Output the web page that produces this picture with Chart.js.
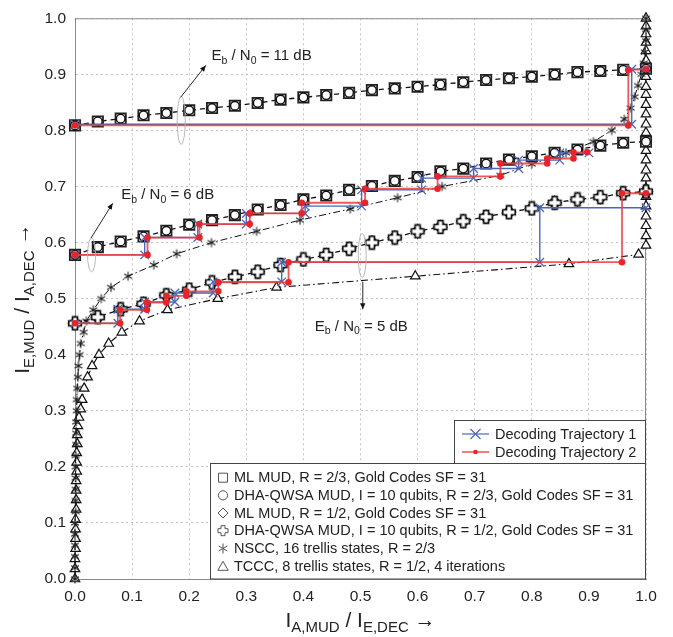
<!DOCTYPE html>
<html><head><meta charset="utf-8">
<script src="https://cdn.jsdelivr.net/npm/chart.js@4"></script>
<style>html,body{margin:0;padding:0;background:#fff}#wrap{width:673px;height:637px}</style>
</head><body><div id="wrap"><canvas id="c" width="673" height="637"></canvas></div>
<script>
// ---------- data ----------
const tickValues = [0.0,0.1,0.2,0.3,0.4,0.5,0.6,0.7,0.8,0.9,1.0];
const muX = [0,0.04,0.08,0.12,0.16,0.20,0.24,0.28,0.32,0.36,0.40,0.44,0.48,0.52,0.56,0.60,0.64,0.68,0.72,0.76,0.80,0.84,0.88,0.92,0.96,1.00];
const mlR23_11dB  = [0.809,0.816,0.821,0.827,0.831,0.836,0.840,0.844,0.849,0.855,0.859,0.863,0.867,0.872,0.875,0.878,0.882,0.886,0.890,0.893,0.896,0.900,0.904,0.906,0.908,0.910];
const dhaR23_11dB = [0.809,0.816,0.821,0.827,0.831,0.836,0.840,0.844,0.849,0.855,0.859,0.863,0.867,0.872,0.875,0.878,0.882,0.886,0.890,0.893,0.896,0.900,0.904,0.906,0.908,0.910];
const mlR23_6dB   = [0.578,0.592,0.602,0.611,0.621,0.632,0.640,0.649,0.659,0.667,0.677,0.684,0.694,0.701,0.710,0.717,0.727,0.732,0.741,0.748,0.754,0.760,0.766,0.773,0.778,0.780];
const dhaR23_6dB  = [0.578,0.592,0.602,0.611,0.621,0.632,0.640,0.649,0.659,0.667,0.677,0.684,0.694,0.701,0.710,0.717,0.727,0.732,0.741,0.748,0.754,0.760,0.766,0.773,0.778,0.780];
const mlR12_5dB   = [0.456,0.467,0.481,0.491,0.506,0.516,0.529,0.539,0.548,0.560,0.570,0.578,0.589,0.600,0.609,0.620,0.628,0.638,0.646,0.654,0.661,0.671,0.677,0.681,0.688,0.691];
const dhaR12_5dB  = [0.456,0.467,0.481,0.491,0.506,0.516,0.529,0.539,0.548,0.560,0.570,0.578,0.589,0.600,0.609,0.620,0.628,0.638,0.646,0.654,0.661,0.671,0.677,0.681,0.688,0.691];

const nsccY = [0.00,0.02,0.04,0.06,0.08,0.10,0.12,0.14,0.16,0.18,0.20,0.22,0.24,0.26,0.28,0.30,0.32,0.34,0.36,0.38,0.40,0.42,0.44,0.46,0.48,0.50,0.52,0.54,0.56,0.58,0.60,0.62,0.64,0.66,0.68,0.70,0.72,0.74,0.76,0.78,0.80,0.82,0.84,0.86,0.88,0.90,0.92,0.94,0.96,0.98,1.00];
const nsccX = [0.000,0.000,0.000,0.000,0.000,0.000,0.001,0.001,0.001,0.001,0.001,0.001,0.002,0.002,0.002,0.003,0.003,0.004,0.005,0.006,0.008,0.010,0.015,0.020,0.032,0.046,0.063,0.093,0.138,0.178,0.239,0.318,0.394,0.482,0.565,0.643,0.745,0.800,0.860,0.908,0.940,0.962,0.973,0.980,0.986,0.992,0.996,0.998,1.000,1.000,1.000];

const tcccY = [0,0.018,0.036,0.054,0.072,0.089,0.106,0.124,0.141,0.158,0.175,0.192,0.208,0.225,0.241,0.257,0.273,0.288,0.303,
  0.32,0.34,0.36,0.38,0.40,0.42,0.44,0.46,0.48,0.50,0.52,0.54,0.562,0.579,
  0.595,0.612,0.630,0.647,0.665,0.682,0.697,0.715,0.729,0.747,0.764,0.782,0.796,0.811,0.829,0.846,0.864,0.878,0.896,0.911,0.925,0.942,0.957,0.972,0.986,1.0];
const tcccX = [0,0,0,0.001,0.001,0.001,0.001,0.002,0.002,0.002,0.002,0.003,0.003,0.003,0.004,0.004,0.005,0.007,0.010,
  0.0125,0.016,0.022,0.030,0.042,0.059,0.082,0.113,0.162,0.250,0.353,0.596,0.865,0.987,
  1,1,1,1,1,1,1,1,1,1,1,1,1,1,1,1,1,1,1,1,1,1,1,1,1,1];

const traj1_11dB_x = [0,0.975,0.975,1.0];
const traj1_11dB_y = [0.811,0.811,0.909,0.910];
const traj2_11dB_x = [0,0.969,0.969,1.0];
const traj2_11dB_y = [0.809,0.809,0.908,0.909];
const traj1_6dB_x = [0,0.122,0.122,0.215,0.215,0.300,0.300,0.403,0.403,0.502,0.502,0.607,0.607,0.698,0.698,0.777,0.777,0.849,0.849,0.900];
const traj1_6dB_y = [0.578,0.578,0.609,0.609,0.633,0.633,0.652,0.652,0.665,0.665,0.694,0.694,0.715,0.715,0.732,0.732,0.747,0.747,0.760,0.760];
const traj2_6dB_x = [0,0.127,0.127,0.218,0.218,0.306,0.306,0.397,0.397,0.508,0.508,0.635,0.635,0.745,0.745,0.827,0.827,0.873,0.873,0.897];
const traj2_6dB_y = [0.578,0.578,0.609,0.609,0.633,0.633,0.652,0.652,0.671,0.671,0.696,0.696,0.718,0.718,0.741,0.741,0.750,0.750,0.761,0.761];
const traj1_5dB_x = [0,0.075,0.075,0.122,0.122,0.175,0.175,0.242,0.242,0.362,0.362,0.814,0.814,1.0];
const traj1_5dB_y = [0.456,0.456,0.481,0.481,0.494,0.494,0.510,0.510,0.530,0.530,0.565,0.565,0.662,0.662];
const traj2_5dB_x = [0,0.079,0.079,0.126,0.126,0.160,0.160,0.195,0.195,0.251,0.251,0.374,0.374,0.958,0.958,1.0];
const traj2_5dB_y = [0.456,0.456,0.480,0.480,0.493,0.493,0.505,0.505,0.513,0.513,0.529,0.529,0.565,0.565,0.688,0.688];

const legendTraj = ['Decoding Trajectory 1','Decoding Trajectory 2'];
const legendCurves = ['ML MUD, R = 2/3, Gold Codes SF = 31','DHA-QWSA MUD, I = 10 qubits, R = 2/3, Gold Codes SF = 31','ML MUD, R = 1/2, Gold Codes SF = 31','DHA-QWSA MUD, I = 10 qubits, R = 1/2, Gold Codes SF = 31','NSCC, 16 trellis states, R = 2/3','TCCC, 8 trellis states, R = 1/2, 4 iterations'];
const annotations = [
  {label:'11', tx:0.239, ty:0.925, ax0:0.185, ay0:0.859, ax1:0.229, ay1:0.916, ex:0.186, ey:0.818, erx:4, ery:24},
  {label:'6',  tx:0.081, ty:0.677, ax0:0.028, ay0:0.608, ax1:0.066, ay1:0.670, ex:0.029, ey:0.578, erx:4, ery:17},
  {label:'5',  tx:0.420, ty:0.443, ax0:0.504, ay0:0.530, ax1:0.504, ay1:0.481, ex:0.503, ey:0.577, erx:4, ery:22}
];

// ---------- helpers ----------
const FONT = '"Liberation Sans", Arial, Helvetica, sans-serif';
const pts = (xs, ys) => xs.map((x, i) => ({x: x, y: ys[i]}));
const BLUE = '#4a66b8', RED = '#e8242a', REDLINE = 'rgba(236,60,60,0.85)';

function plusPath(g, cx, cy, s, a){
  g.beginPath();
  g.moveTo(cx-a,cy-s); g.lineTo(cx+a,cy-s); g.lineTo(cx+a,cy-a); g.lineTo(cx+s,cy-a);
  g.lineTo(cx+s,cy+a); g.lineTo(cx+a,cy+a); g.lineTo(cx+a,cy+s); g.lineTo(cx-a,cy+s);
  g.lineTo(cx-a,cy+a); g.lineTo(cx-s,cy+a); g.lineTo(cx-s,cy-a); g.lineTo(cx-a,cy-a); g.closePath();
}
function astPath(g, cx, cy, r){
  g.beginPath();
  for (let k = 0; k < 3; k++){
    const ang = Math.PI/2 + k*Math.PI/3;
    g.moveTo(cx + r*Math.cos(ang), cy + r*Math.sin(ang));
    g.lineTo(cx - r*Math.cos(ang), cy - r*Math.sin(ang));
  }
}
function mkPlus(){
  const c = document.createElement('canvas'); c.width = c.height = 16;
  const g = c.getContext('2d');
  plusPath(g, 8, 8, 6.3, 2.5);
  g.fillStyle = '#fff'; g.fill(); g.lineWidth = 1.7; g.strokeStyle = '#111'; g.stroke();
  return c;
}
function mkAst(){
  const c = document.createElement('canvas'); c.width = c.height = 12;
  const g = c.getContext('2d');
  astPath(g, 6, 6, 4.5);
  g.lineWidth = 1.1; g.strokeStyle = '#222'; g.stroke();
  return c;
}
const plusImg = mkPlus(), astImg = mkAst();

function curve(xs, ys, style, radius, extra){
  return Object.assign({
    data: pts(xs, ys), showLine: true, clip: false,
    borderColor: '#111', borderWidth: 1.3, borderDash: [5,4],
    pointStyle: style, pointRadius: radius, pointHoverRadius: radius,
    pointBorderColor: '#111', pointBackgroundColor: '#fff', pointBorderWidth: 1.4
  }, extra || {});
}
function traj(xs, ys, isBlue){
  return {
    data: pts(xs, ys), showLine: true, clip: false,
    borderColor: isBlue ? BLUE : REDLINE, borderWidth: isBlue ? 1.4 : 1.8,
    pointStyle: isBlue ? 'crossRot' : 'circle',
    pointRadius: isBlue ? 6 : 3.3, pointHoverRadius: isBlue ? 6 : 3.3,
    pointBorderColor: isBlue ? BLUE : RED, pointBackgroundColor: isBlue ? BLUE : RED,
    pointBorderWidth: isBlue ? 1.3 : 0
  };
}

function drawSubText(ctx, parts, x, y, mainSize, subSize, subDy, align){
  let w = 0;
  for (const p of parts){ ctx.font = (p.s ? subSize : mainSize) + 'px ' + FONT; w += ctx.measureText(p.t).width; }
  let cx = align === 'center' ? x - w/2 : x;
  ctx.textAlign = 'left'; ctx.textBaseline = 'alphabetic';
  for (const p of parts){
    ctx.font = (p.s ? subSize : mainSize) + 'px ' + FONT;
    ctx.fillText(p.t, cx, y + (p.s ? subDy : 0));
    cx += ctx.measureText(p.t).width;
  }
}
function arrow(ctx, x0, y0, x1, y1){
  ctx.beginPath(); ctx.moveTo(x0, y0); ctx.lineTo(x1, y1); ctx.stroke();
  const a = Math.atan2(y1 - y0, x1 - x0), L = 6, W = 2.6;
  ctx.beginPath();
  ctx.moveTo(x1, y1);
  ctx.lineTo(x1 - L*Math.cos(a) + W*Math.sin(a), y1 - L*Math.sin(a) - W*Math.cos(a));
  ctx.lineTo(x1 - L*Math.cos(a) - W*Math.sin(a), y1 - L*Math.sin(a) + W*Math.cos(a));
  ctx.closePath(); ctx.fill();
}

const decor = {
  id: 'decor',
  beforeDatasetsDraw(chart){
    const {ctx, chartArea: a} = chart;
    ctx.save(); ctx.strokeStyle = '#8a8a8a'; ctx.lineWidth = 1;
    ctx.beginPath(); ctx.moveTo(a.left, a.top + 0.5); ctx.lineTo(a.right, a.top + 0.5);
    ctx.moveTo(a.right - 0.5, a.top); ctx.lineTo(a.right - 0.5, a.bottom); ctx.stroke();
    ctx.restore();
  },
  afterDatasetsDraw(chart){
    const {ctx, chartArea: a, scales: {x: sx, y: sy}} = chart;
    ctx.save();
    // annotations
    for (const an of annotations){
      ctx.strokeStyle = '#b0b0b0'; ctx.lineWidth = 0.9;
      ctx.beginPath(); ctx.ellipse(sx.getPixelForValue(an.ex), sy.getPixelForValue(an.ey), an.erx, an.ery, 0, 0, Math.PI*2); ctx.stroke();
      ctx.strokeStyle = '#111'; ctx.fillStyle = '#111'; ctx.lineWidth = 0.9;
      arrow(ctx, sx.getPixelForValue(an.ax0), sy.getPixelForValue(an.ay0), sx.getPixelForValue(an.ax1), sy.getPixelForValue(an.ay1));
      ctx.fillStyle = '#222';
      drawSubText(ctx, [{t:'E'},{t:'b',s:1},{t:' / N'},{t:'0',s:1},{t:' = ' + an.label + ' dB'}],
        sx.getPixelForValue(an.tx), sy.getPixelForValue(an.ty), 15, 10.5, 3.5, 'left');
    }
    // upper legend
    const R = a.right;
    ctx.fillStyle = '#fff'; ctx.strokeStyle = '#444'; ctx.lineWidth = 1;
    ctx.fillRect(454.5, 420.5, R - 454.5, 43); ctx.strokeRect(454.5, 420.5, R - 455, 43);
    const uy = [434, 452];
    for (let i = 0; i < 2; i++){
      const blue = i === 0;
      ctx.strokeStyle = blue ? BLUE : RED; ctx.lineWidth = 1.2;
      ctx.beginPath(); ctx.moveTo(462, uy[i]); ctx.lineTo(489, uy[i]); ctx.stroke();
      if (blue){ ctx.lineWidth = 1.1; ctx.beginPath(); ctx.moveTo(470.5, uy[i]-5); ctx.lineTo(480.5, uy[i]+5); ctx.moveTo(480.5, uy[i]-5); ctx.lineTo(470.5, uy[i]+5); ctx.stroke(); }
      else { ctx.fillStyle = RED; ctx.beginPath(); ctx.arc(475.5, uy[i], 2.3, 0, Math.PI*2); ctx.fill(); }
      ctx.fillStyle = '#222'; ctx.font = '14.5px ' + FONT; ctx.textAlign = 'left'; ctx.textBaseline = 'middle';
      ctx.fillText(legendTraj[i], 495, uy[i] + 0.5);
    }
    // lower legend
    ctx.fillStyle = '#fff'; ctx.strokeStyle = '#444'; ctx.lineWidth = 1;
    ctx.fillRect(210.5, 463.5, R - 210.5, a.bottom - 463.5); ctx.strokeRect(210.5, 463.5, R - 211, a.bottom - 463.5);
    const ly = [477.7, 495.3, 513, 530.7, 548.5, 566.3];
    const mx = 223;
    ctx.strokeStyle = '#555'; ctx.lineWidth = 1;
    for (let i = 0; i < 6; i++){
      const y = ly[i];
      ctx.beginPath();
      if (i === 0) ctx.rect(mx - 4.5, y - 4.5, 9, 9);
      else if (i === 1) ctx.arc(mx, y, 4.6, 0, Math.PI*2);
      else if (i === 2){ ctx.moveTo(mx, y - 5); ctx.lineTo(mx + 5, y); ctx.lineTo(mx, y + 5); ctx.lineTo(mx - 5, y); ctx.closePath(); }
      else if (i === 3) plusPath(ctx, mx, y, 5, 2);
      else if (i === 4) astPath(ctx, mx, y, 5);
      else { ctx.moveTo(mx, y - 5); ctx.lineTo(mx + 5.2, y + 4); ctx.lineTo(mx - 5.2, y + 4); ctx.closePath(); }
      ctx.stroke();
      ctx.fillStyle = '#222'; ctx.font = '14.5px ' + FONT; ctx.textAlign = 'left'; ctx.textBaseline = 'middle';
      ctx.fillText(legendCurves[i], 234, y + 0.5);
    }
    // axis titles
    ctx.fillStyle = '#222';
    drawSubText(ctx, [{t:'I'},{t:'A,MUD',s:1},{t:' / I'},{t:'E,DEC',s:1},{t:' \u2192'}], (a.left + a.right)/2, 627, 21, 15, 5, 'center');
    ctx.save();
    ctx.translate(29, (a.top + a.bottom)/2); ctx.rotate(-Math.PI/2);
    drawSubText(ctx, [{t:'I'},{t:'E,MUD',s:1},{t:' / I'},{t:'A,DEC',s:1},{t:' \u2192'}], 0, 0, 21, 15, 5, 'center');
    ctx.restore();
    ctx.restore();
  }
};

const datasets = [
  traj(traj2_11dB_x, traj2_11dB_y, false),
  traj(traj2_6dB_x, traj2_6dB_y, false),
  traj(traj2_5dB_x, traj2_5dB_y, false),
  traj(traj1_11dB_x, traj1_11dB_y, true),
  traj(traj1_6dB_x, traj1_6dB_y, true),
  traj(traj1_5dB_x, traj1_5dB_y, true),
  curve(muX, dhaR23_11dB, 'circle', 4.3, {borderWidth: 0, borderDash: []}),
  curve(muX, dhaR23_6dB, 'circle', 4.3, {borderWidth: 0, borderDash: []}),
  curve(muX, mlR23_11dB, 'rect', 7.3, {pointBorderWidth: 1.8, pointBorderColor: '#222'}),
  curve(muX, mlR23_6dB, 'rect', 7.3, {pointBorderWidth: 1.8, pointBorderColor: '#222'}),
  curve(muX, dhaR12_5dB, plusImg, 7, {borderWidth: 0, borderDash: []}),
  curve(muX, mlR12_5dB, 'rectRot', 6.5, {pointBorderWidth: 1.4}),
  curve(nsccX, nsccY, astImg, 5, {borderWidth: 1, borderDash: [7,3,1.5,3]}),
  curve(tcccX, tcccY, 'triangle', 5.5, {borderWidth: 1.1, borderDash: [7,3,1.5,3], pointBorderWidth: 1.2})
];

new Chart(document.getElementById('c'), {
  type: 'scatter',
  data: {datasets: datasets},
  options: {
    responsive: false, animation: false, devicePixelRatio: 1,
    layout: {padding: {top: 9, right: 27, left: 0, bottom: 0}},
    plugins: {legend: {display: false}, tooltip: {enabled: false}},
    elements: {line: {tension: 0}},
    scales: {
      x: {
        type: 'linear', min: 0, max: 1,
        afterBuildTicks: s => { s.ticks = tickValues.map(v => ({value: v})); },
        afterFit: s => { s.height = 58; },
        ticks: {callback: v => v.toFixed(1), font: {family: FONT, size: 15.5}, color: '#222', padding: 8, maxRotation: 0, autoSkip: false},
        grid: {color: '#c4c4c4', lineWidth: 1, drawTicks: false},
        border: {color: '#8a8a8a', width: 1, dash: [2,3]}
      },
      y: {
        type: 'linear', min: 0, max: 1,
        afterBuildTicks: s => { s.ticks = tickValues.map(v => ({value: v})); },
        afterFit: s => { s.width = 75; },
        ticks: {callback: v => v.toFixed(1), font: {family: FONT, size: 15.5}, color: '#222', padding: 9, autoSkip: false},
        grid: {color: '#c4c4c4', lineWidth: 1, drawTicks: false},
        border: {color: '#8a8a8a', width: 1, dash: [2,3]}
      }
    }
  },
  plugins: [decor]
});
</script></body></html>
